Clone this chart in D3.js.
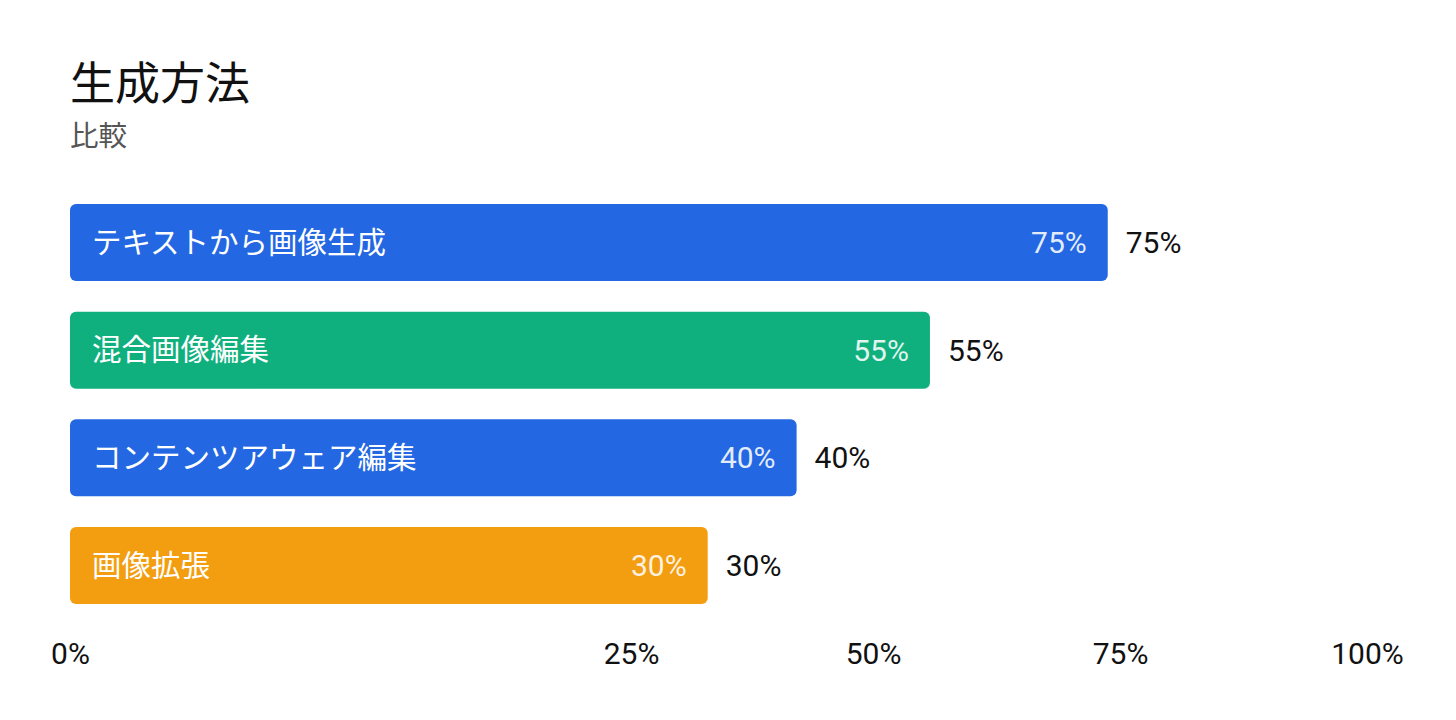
<!DOCTYPE html>
<html>
<head>
<meta charset="utf-8">
<script src="https://cdn.jsdelivr.net/npm/d3@7"></script>
<style>
  html, body { margin: 0; padding: 0; background: #fff; }
  svg { display: block; font-family: Roboto, "Noto Sans CJK JP", sans-serif; }
</style>
</head>
<body>
<div id="chart"></div>
<script>
// Data
const categories = ["テキストから画像生成", "混合画像編集", "コンテンツアウェア編集", "画像拡張"];
const values = [75, 55, 40, 30];
const barColors = ["#2367E2", "#10B07E", "#2367E2", "#F39D10"];
const tickValues = [0, 25, 50, 75, 100];

const width = 1456, height = 720;

const svg = d3.select("#chart")
  .append("svg")
    .attr("width", width)
    .attr("height", height);

// Title + subtitle
svg.append("text")
  .attr("x", 70).attr("y", 100)
  .attr("font-size", 45)
  .attr("fill", "#111")
  .text("生成方法");
svg.append("text")
  .attr("x", 70).attr("y", 146)
  .attr("font-size", 28.5)
  .attr("fill", "#555")
  .text("比較");

// Y band for the rows
const y = d3.scaleBand()
  .domain(categories)
  .range([204, 604])
  .paddingInner(0.285)
  .paddingOuter(0);

// the axis in the original is not evenly spaced, so use its own stops
const xAxisScale = d3.scaleLinear()
  .domain(tickValues)
  .range([70, 631, 873, 1120, 1367]);

// bars begin at the label column and grow from there
const xBar = d3.scaleLinear()
  .domain([0, 100])
  .range([441, 1330]);
const barLeft = 70;

const data = categories.map((c, i) => ({ name: c, value: values[i], color: barColors[i] }));

const rows = svg.selectAll("g.row")
  .data(data)
  .enter()
  .append("g")
    .attr("class", "row")
    .attr("transform", d => `translate(0, ${y(d.name)})`);

rows.append("rect")
  .attr("x", barLeft)
  .attr("y", 0)
  .attr("width", d => xBar(d.value) - barLeft)
  .attr("height", y.bandwidth())
  .attr("rx", 6)
  .attr("fill", d => d.color);

// category name inside the bar
rows.append("text")
  .attr("x", barLeft + 22)
  .attr("y", y.bandwidth() / 2)
  .attr("dy", "0.35em")
  .attr("font-size", 29.5)
  .attr("fill", "#fff")
  .text(d => d.name);

// value inside, right aligned
rows.append("text")
  .attr("x", d => xBar(d.value) - 21)
  .attr("y", y.bandwidth() / 2)
  .attr("dy", "0.35em")
  .attr("text-anchor", "end")
  .attr("font-size", 30)
  .attr("fill", "#fff")
  .attr("fill-opacity", 0.88)
  .text(d => d.value + "%");

// value outside
rows.append("text")
  .attr("x", d => xBar(d.value) + 18)
  .attr("y", y.bandwidth() / 2)
  .attr("dy", "0.35em")
  .attr("font-size", 30)
  .attr("fill", "#111")
  .text(d => d.value + "%");

// X axis, labels only
const axis = svg.append("g")
  .attr("transform", "translate(0, 643)")
  .call(d3.axisBottom(xAxisScale)
    .tickValues(tickValues)
    .tickSize(0)
    .tickPadding(0)
    .tickFormat(d => d + "%"));
axis.select(".domain").remove();
axis.selectAll("text")
  .attr("font-size", 30)
  .attr("font-family", "Roboto, 'Noto Sans CJK JP', sans-serif")
  .attr("fill", "#111");
</script>
</body>
</html>
